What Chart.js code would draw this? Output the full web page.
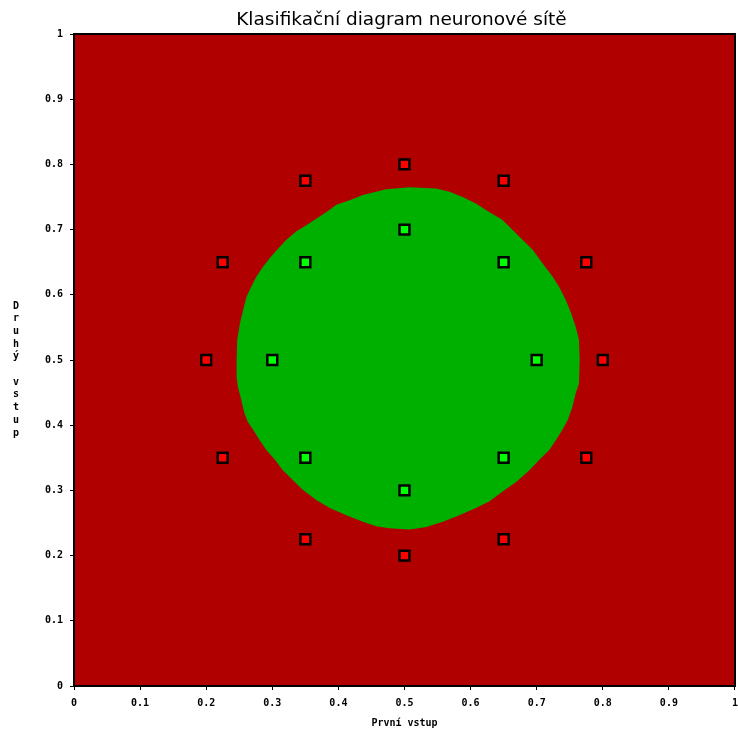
<!DOCTYPE html>
<html>
<head>
<meta charset="utf-8">
<script src="https://cdn.jsdelivr.net/npm/chart.js@4/dist/chart.umd.min.js"></script>
<style>
  html, body { margin:0; padding:0; background:#fff; overflow:hidden; }
  /* o kousek širší než okno, aby poslední popisek osy x přečníval přes okraj */
  #wrap { width:745px; height:731px; position:relative; }
</style>
</head>
<body>
<div id="wrap"><canvas id="diagram"></canvas></div>
<script>
// trénovací body (vnější = třída 0, vnitřní = třída 1)
const outerX = [0.5, 0.35, 0.65, 0.225, 0.775, 0.2, 0.8, 0.225, 0.775, 0.35, 0.65, 0.5];
const outerY = [0.8, 0.775, 0.775, 0.65, 0.65, 0.5, 0.5, 0.35, 0.35, 0.225, 0.225, 0.2];
const innerX = [0.5, 0.35, 0.65, 0.3, 0.7, 0.35, 0.65, 0.5];
const innerY = [0.7, 0.65, 0.65, 0.5, 0.5, 0.35, 0.35, 0.3];

// hranice oblasti, kterou síť klasifikuje jako třídu 1
const boundaryX = [0.548,0.508,0.472,0.457,0.437,0.417,0.397,0.382,0.367,0.352,0.336,0.321,0.309,0.296,0.286,0.276,0.268,0.261,0.256,0.251,0.247,0.246,0.246,0.248,0.253,0.258,0.263,0.271,0.281,0.291,0.304,0.316,0.331,0.346,0.367,0.387,0.412,0.437,0.457,0.477,0.508,0.533,0.558,0.583,0.608,0.628,0.648,0.669,0.689,0.704,0.719,0.729,0.739,0.747,0.754,0.759,0.764,0.765,0.764,0.759,0.752,0.744,0.734,0.724,0.709,0.694,0.679,0.664,0.648,0.628,0.608,0.588,0.568];
const boundaryY = [0.763,0.765,0.762,0.758,0.753,0.745,0.738,0.727,0.717,0.707,0.697,0.684,0.671,0.656,0.643,0.628,0.612,0.597,0.577,0.556,0.531,0.500,0.474,0.459,0.439,0.418,0.405,0.393,0.377,0.362,0.347,0.331,0.316,0.301,0.285,0.273,0.262,0.252,0.245,0.242,0.240,0.244,0.252,0.262,0.273,0.283,0.298,0.313,0.331,0.347,0.362,0.377,0.393,0.408,0.428,0.449,0.464,0.500,0.531,0.551,0.572,0.592,0.612,0.628,0.648,0.669,0.684,0.699,0.715,0.727,0.740,0.750,0.758];

const chartTitle = 'Klasifikační diagram neuronové sítě';
const yTitle = ['D','r','u','h','ý','','v','s','t','u','p'];

const toPoints = (xs, ys) => xs.map((x, i) => ({ x, y: ys[i] }));
const region = toPoints(boundaryX, boundaryY);
region.push({ x: boundaryX[0], y: boundaryY[0] });

const tickFont = { family:'"DejaVu Sans Mono", monospace', size:10, weight:'bold' };
const tickLabel = (v) => String(Number(Number(v).toFixed(1)));

// pozadí (třída 0), rámeček, nadpis a svislý popisek osy y
const areaPlugin = {
  id:'area',
  beforeDatasetsDraw(chart){
    const { ctx, chartArea:a } = chart;
    ctx.save();
    ctx.fillStyle = '#b00000';
    ctx.fillRect(a.left, a.top, a.right - a.left, a.bottom - a.top);
    ctx.restore();
  },
  afterDraw(chart){
    const { ctx, chartArea:a } = chart;
    ctx.save();
    ctx.strokeStyle = '#000';
    ctx.lineWidth = 2;
    ctx.strokeRect(a.left, a.top, a.right - a.left, a.bottom - a.top);
    ctx.fillStyle = '#000';
    ctx.textAlign = 'center';
    ctx.textBaseline = 'middle';
    ctx.font = '18.5px "DejaVu Sans", sans-serif';
    ctx.fillText(chartTitle, (a.left + a.right) / 2 - 3, 20);
    ctx.font = 'bold 10px "DejaVu Sans Mono", monospace';
    yTitle.forEach((ch, i) => ctx.fillText(ch, 16, 306 + i * 12.7));
    ctx.restore();
  }
};

new Chart(document.getElementById('diagram'), {
  type:'scatter',
  data:{
    datasets:[
      {
        label:'Třída 1',
        data: toPoints(innerX, innerY),
        pointStyle:'rect',
        pointRadius:7,
        pointHoverRadius:7,
        backgroundColor:'#00ff00',
        borderColor:'#000',
        borderWidth:2.5
      },
      {
        label:'Třída 0',
        data: toPoints(outerX, outerY),
        pointStyle:'rect',
        pointRadius:7,
        pointHoverRadius:7,
        backgroundColor:'#ff0000',
        borderColor:'#000',
        borderWidth:2.5
      },
      {
        label:'Oblast',
        data: region,
        showLine:true,
        fill:'shape',
        tension:0,
        pointRadius:0,
        borderWidth:0,
        borderColor:'#00b000',
        backgroundColor:'#00b000'
      }
    ]
  },
  options:{
    responsive:true,
    maintainAspectRatio:false,
    animation:false,
    layout:{ padding:{ top:34, right:0, bottom:0, left:0 } },
    plugins:{
      legend:{ display:false },
      tooltip:{ enabled:false },
      title:{ display:false }
    },
    scales:{
      x:{
        type:'linear',
        min:0,
        max:1,
        afterFit:(s) => { s.height = 45; },
        border:{ display:true, color:'#000', width:2 },
        grid:{ drawOnChartArea:false, drawTicks:true, tickLength:4, color:'#000' },
        ticks:{ stepSize:0.1, color:'#000', font:tickFont, padding:7, maxRotation:0, callback:tickLabel },
        title:{
          display:true,
          text:'První vstup',
          color:'#000',
          font:tickFont,
          padding:{ top:0, bottom:1.5 }
        }
      },
      y:{
        type:'linear',
        min:0,
        max:1,
        afterFit:(s) => { s.width = 74; },
        border:{ display:true, color:'#000', width:2 },
        grid:{ drawOnChartArea:false, drawTicks:true, tickLength:4, color:'#000' },
        ticks:{ stepSize:0.1, color:'#000', font:tickFont, padding:7, callback:tickLabel }
      }
    }
  },
  plugins:[areaPlugin]
});
</script>
</body>
</html>
